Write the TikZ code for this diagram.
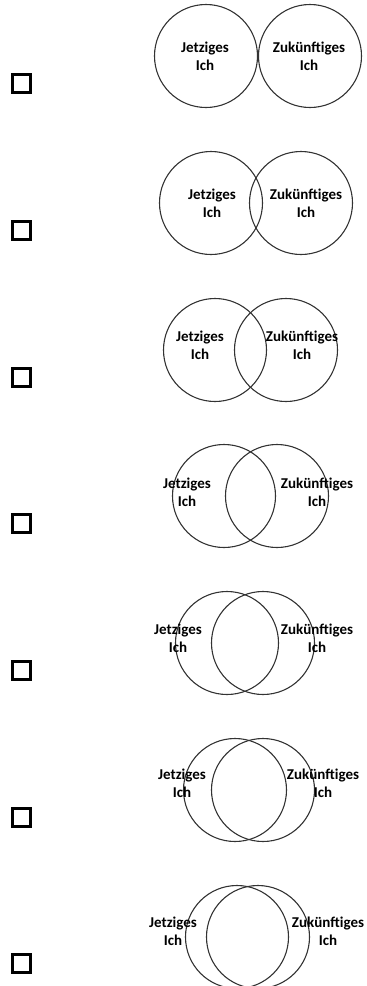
\documentclass[tikz,border=0pt]{standalone}
\usepackage{fontspec}
\setmainfont{Carlito}
\usetikzlibrary{positioning}
\definecolor{ringGray}{HTML}{333333}
\tikzset{
  ring/.style={circle, draw=ringGray, line width=1.1pt, minimum size=103pt, inner sep=0pt},
  ringText/.style={align=center, font=\bfseries\fontsize{15}{18}\selectfont, inner sep=0pt},
  tickBox/.style={rectangle, draw=black, line width=3pt, minimum size=18pt, inner sep=0pt},
}
\begin{document}
\begin{tikzpicture}[x=1pt, y=-1pt]
  \useasboundingbox (0,0) rectangle (367,986);
  % 1
  \node[ring] (ich1) at (206,56) {};
  \node[ring] (zuk1) at (310,56) {};
  \node[ringText] (tj1) at (205,56) {Jetziges\\Ich};
  \node[ringText] (tz1) at (309,56) {Zukünftiges\\Ich};
  \node[tickBox] (cb1) at (21,83) {};
  % 2
  \node[ring] (ich2) at (211,203) {};
  \node[ring] (zuk2) at (301,203) {};
  \node[ringText] (tj2) at (212,203) {Jetziges\\Ich};
  \node[ringText] (tz2) at (306,203) {Zukünftiges\\Ich};
  \node[tickBox] (cb2) at (21,230) {};
  % 3
  \node[ring] (ich3) at (215,350) {};
  \node[ring] (zuk3) at (286,350) {};
  \node[ringText] (tj3) at (200,345) {Jetziges\\Ich};
  \node[ringText] (tz3) at (302,345) {Zukünftiges\\Ich};
  \node[tickBox] (cb3) at (21,377) {};
  % 4
  \node[ring] (ich4) at (224,496) {};
  \node[ring] (zuk4) at (277,496) {};
  \node[ringText] (tj4) at (187,492) {Jetziges\\Ich};
  \node[ringText] (tz4) at (317,492) {Zukünftiges\\Ich};
  \node[tickBox] (cb4) at (21,523) {};
  % 5
  \node[ring] (ich5) at (227,643) {};
  \node[ring] (zuk5) at (263,643) {};
  \node[ringText] (tj5) at (178,638) {Jetziges\\Ich};
  \node[ringText] (tz5) at (317,638) {Zukünftiges\\Ich};
  \node[tickBox] (cb5) at (21,670) {};
  % 6
  \node[ring] (ich6) at (235,790) {};
  \node[ring] (zuk6) at (263,790) {};
  \node[ringText] (tj6) at (182,783) {Jetziges\\Ich};
  \node[ringText] (tz6) at (323,783) {Zukünftiges\\Ich};
  \node[tickBox] (cb6) at (21,817) {};
  % 7
  \node[ring] (ich7) at (237,937) {};
  \node[ring] (zuk7) at (258,937) {};
  \node[ringText] (tj7) at (173,931) {Jetziges\\Ich};
  \node[ringText] (tz7) at (328,931) {Zukünftiges\\Ich};
  \node[tickBox] (cb7) at (21,963) {};
\end{tikzpicture}
\end{document}
